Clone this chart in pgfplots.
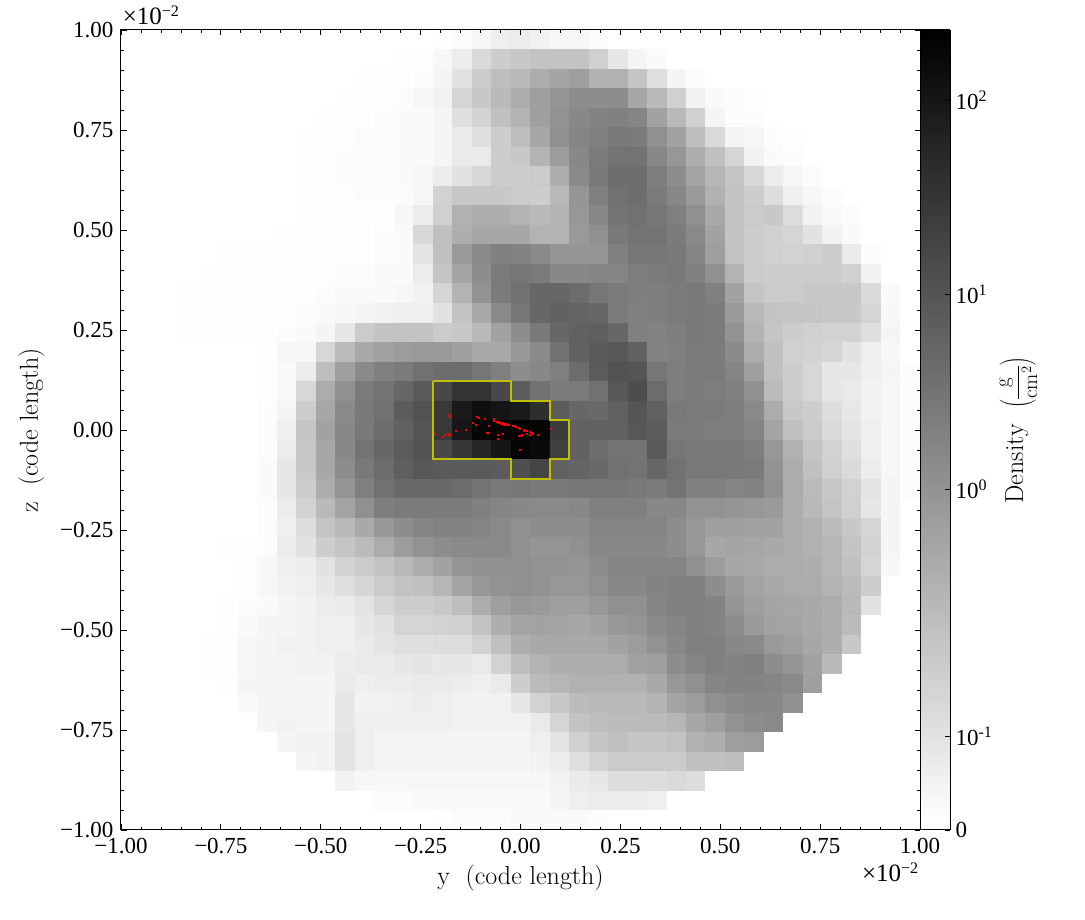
\documentclass[border=0pt]{standalone}
\usepackage{fontspec}
\usepackage{pgfplots}
\pgfplotsset{compat=1.18}
\newfontfamily\tk{Liberation Serif}
\newcommand{\tkfont}{\tk\fontsize{23}{23}\selectfont}
\newcommand{\lbfont}{\fontsize{26}{30}\selectfont}
\newcommand{\sups}[1]{\raisebox{8pt}{\fontsize{16}{16}\selectfont #1}}
\definecolor{contour}{rgb}{0.75,0.75,0}

\begin{document}
\begin{tikzpicture}
\useasboundingbox (0pt,0pt) rectangle (1085pt,920pt);
\begin{axis}[
    at={(121pt,90pt)}, anchor=south west,
    scale only axis,
    width=799pt, height=800pt,
    xmin=-1, xmax=1, ymin=-1, ymax=1,
    enlargelimits=false,
    axis on top,
    axis line style={line width=1pt},
    tick style={black, line width=0.8pt},
    tick align=inside,
    xtick pos=both, ytick pos=both,
    xticklabel pos=bottom, yticklabel pos=left,
    major tick length=5.5pt, minor tick length=3.3pt,
    minor tick num=4,
    xtick={-1,-0.75,-0.5,-0.25,0,0.25,0.5,0.75,1},
    ytick={-1,-0.75,-0.5,-0.25,0,0.25,0.5,0.75,1},
    xticklabels={−1.00,−0.75,−0.50,−0.25,0.00,0.25,0.50,0.75,1.00},
    yticklabels={−1.00,−0.75,−0.50,−0.25,0.00,0.25,0.50,0.75,1.00},
    tick label style={font=\tkfont},
    xticklabel style={yshift=-5pt},
    yticklabel style={xshift=-4pt},
    xlabel={y\ \ (code length)},
    ylabel={z\ \ (code length)},
    label style={font=\lbfont},
    xlabel style={at={(axis description cs:0.5,0)}, anchor=base, yshift=-55pt},
    ylabel style={at={(axis description cs:0,0.5)}, anchor=base, rotate=0, yshift=83pt},
    colormap={bw}{gray(0cm)=(1); gray(1cm)=(0.997); gray(5cm)=(0.96); gray(10cm)=(0.905); gray(100cm)=(0)},
    point meta min=0, point meta max=100,
    colorbar sampled,
    colorbar style={
        at={(1,1)}, anchor=north west, xshift=0pt,
        width=30pt, height=800pt,
        samples=201,
        xmin=0, xmax=1,
        ymin=0, ymax=100,
        ytick={0,11.75,42.6,66.9,91.25},
        yticklabels={0,10\sups{-1},10\sups{0},10\sups{1},10\sups{2}},
        ytick pos=right, yticklabel pos=right,
        tick align=inside,
        major tick length=5.5pt,
        minor tick num=0,
        minor ytick={},
        tick style={black, line width=0.8pt},
        axis line style={line width=1pt},
        yticklabel style={font=\tkfont, anchor=west, xshift=2pt},
        ylabel={Density\ \ {\fontsize{21}{24}\selectfont$\displaystyle\left(\frac{\mathrm{g}}{\mathrm{cm}^2}\right)$}},
        ylabel style={font=\lbfont, at={(axis description cs:1,0.5)}, anchor=base, yshift=-73pt},
    },
    after end axis/.code={
        \node[font=\tk\fontsize{25}{25}\selectfont, anchor=base west, inner sep=0pt] at (axis description cs:0.002,1.00625) {×10\sups{−2}};
        \node[font=\tk\fontsize{25}{25}\selectfont, anchor=base east, inner sep=0pt] at (axis description cs:0.998,-0.065) {×10\sups{−2}};
    },
]
% density grid, 41 x 41 cells, top row first; value = position on the symlog colour scale (0-100)
\addplot[matrix plot*, shader=faceted, faceted color=mapped color, line width=0.3pt,
         mesh/cols=41, mesh/ordering=x varies, point meta=explicit]
    table[row sep=\\, header=false, meta index=0,
          x expr={-1+(round(mod(\coordindex,41))+0.5)*2/41},
          y expr={1-(floor((\coordindex+0.5)/41)+0.5)*2/41}] {
0\\0\\0\\0\\0\\0\\0\\0\\0\\0\\0\\0\\0\\0\\0\\0\\1\\2\\4\\7\\8\\6\\4\\4\\2\\0\\0\\0\\0\\0\\0\\0\\0\\0\\0\\0\\0\\0\\0\\0\\0\\
0\\0\\0\\0\\0\\0\\0\\0\\0\\0\\0\\0\\0\\0\\1\\1\\4\\8\\15\\20\\22\\24\\24\\24\\19\\10\\5\\3\\0\\0\\0\\0\\0\\0\\0\\0\\0\\0\\0\\0\\0\\
0\\0\\0\\0\\0\\0\\0\\0\\0\\0\\0\\0\\1\\1\\1\\2\\5\\12\\21\\26\\28\\33\\36\\38\\31\\31\\23\\13\\5\\2\\0\\0\\0\\0\\0\\0\\0\\0\\0\\0\\0\\
0\\0\\0\\0\\0\\0\\0\\0\\0\\0\\0\\1\\1\\1\\2\\4\\6\\17\\22\\28\\33\\38\\42\\45\\45\\45\\35\\28\\19\\6\\3\\2\\1\\0\\0\\0\\0\\0\\0\\0\\0\\
0\\0\\0\\0\\0\\0\\0\\0\\0\\0\\1\\1\\1\\2\\3\\3\\5\\13\\18\\25\\30\\38\\43\\47\\49\\50\\48\\37\\28\\19\\5\\2\\2\\0\\0\\0\\0\\0\\0\\0\\0\\
0\\0\\0\\0\\0\\0\\0\\0\\0\\1\\1\\1\\2\\2\\3\\3\\5\\9\\13\\20\\26\\35\\44\\48\\50\\53\\52\\44\\37\\26\\15\\5\\4\\2\\1\\0\\0\\0\\0\\0\\0\\
0\\0\\0\\0\\0\\0\\0\\0\\0\\1\\1\\2\\2\\2\\3\\3\\5\\9\\9\\20\\22\\30\\39\\47\\52\\55\\55\\47\\41\\32\\25\\17\\6\\3\\2\\0\\0\\0\\0\\0\\0\\
0\\0\\0\\0\\0\\0\\0\\0\\0\\1\\1\\2\\2\\2\\3\\4\\8\\12\\16\\20\\20\\21\\32\\46\\53\\57\\57\\51\\45\\36\\29\\23\\16\\8\\4\\2\\0\\0\\0\\0\\0\\
0\\0\\0\\0\\0\\0\\0\\0\\0\\1\\1\\1\\2\\2\\2\\4\\18\\22\\22\\22\\21\\20\\28\\42\\50\\56\\57\\52\\47\\40\\31\\24\\20\\14\\7\\4\\2\\0\\0\\0\\0\\
0\\0\\0\\0\\0\\0\\0\\0\\0\\1\\1\\1\\1\\1\\4\\8\\19\\31\\32\\32\\30\\28\\30\\41\\47\\55\\56\\54\\50\\44\\34\\24\\21\\22\\14\\6\\3\\2\\0\\0\\0\\
0\\0\\0\\0\\0\\0\\0\\0\\1\\1\\1\\1\\1\\2\\3\\16\\25\\32\\35\\35\\35\\30\\30\\40\\44\\53\\55\\55\\52\\46\\37\\24\\20\\19\\17\\12\\6\\3\\0\\0\\0\\
0\\0\\0\\0\\0\\1\\1\\1\\1\\1\\1\\1\\1\\2\\3\\11\\25\\40\\46\\50\\49\\46\\42\\42\\42\\50\\54\\54\\53\\48\\38\\24\\20\\19\\18\\19\\20\\9\\2\\0\\0\\
0\\0\\0\\0\\1\\1\\1\\1\\1\\1\\1\\2\\2\\3\\3\\8\\23\\36\\45\\52\\54\\52\\47\\47\\48\\48\\51\\52\\53\\50\\44\\30\\21\\20\\20\\20\\20\\19\\6\\0\\0\\
0\\0\\0\\1\\1\\1\\1\\1\\1\\1\\2\\3\\3\\3\\4\\6\\17\\30\\43\\52\\56\\60\\60\\58\\54\\52\\51\\51\\52\\53\\50\\37\\23\\21\\21\\22\\22\\22\\15\\3\\0\\
0\\0\\0\\1\\1\\1\\1\\1\\1\\2\\3\\4\\5\\6\\7\\7\\12\\24\\34\\46\\54\\60\\62\\61\\60\\52\\50\\51\\52\\53\\52\\40\\28\\24\\23\\23\\22\\22\\17\\4\\0\\
0\\0\\0\\1\\1\\1\\1\\1\\2\\3\\5\\10\\21\\24\\24\\24\\21\\22\\28\\37\\45\\53\\60\\62\\63\\60\\50\\49\\51\\53\\52\\43\\30\\23\\20\\19\\18\\18\\13\\5\\0\\
0\\0\\0\\0\\0\\0\\0\\1\\4\\4\\16\\27\\34\\37\\39\\40\\40\\38\\34\\34\\41\\46\\56\\62\\65\\66\\62\\49\\50\\52\\52\\46\\33\\25\\19\\18\\17\\12\\7\\4\\0\\
0\\0\\0\\0\\0\\0\\0\\1\\3\\8\\26\\38\\46\\50\\52\\56\\58\\58\\54\\50\\45\\47\\50\\58\\64\\68\\67\\54\\51\\52\\52\\48\\38\\25\\20\\16\\10\\10\\7\\5\\2\\
0\\0\\0\\0\\0\\0\\0\\1\\3\\16\\33\\44\\52\\55\\60\\65\\72\\80\\80\\72\\64\\56\\52\\52\\56\\66\\70\\58\\51\\52\\51\\50\\44\\27\\20\\16\\10\\9\\6\\4\\2\\
0\\0\\0\\0\\0\\0\\0\\2\\5\\20\\35\\46\\53\\56\\64\\68\\78\\90\\94\\92\\90\\82\\64\\60\\59\\62\\67\\62\\53\\52\\52\\51\\46\\33\\22\\20\\14\\10\\6\\4\\2\\
0\\0\\0\\0\\0\\0\\0\\2\\7\\23\\37\\47\\53\\58\\62\\67\\78\\91\\98\\99\\99\\98\\77\\62\\62\\62\\66\\64\\52\\52\\51\\51\\48\\36\\25\\21\\15\\11\\7\\4\\2\\
0\\0\\0\\0\\0\\0\\0\\2\\8\\22\\35\\47\\55\\60\\64\\68\\72\\79\\85\\92\\98\\96\\75\\62\\58\\55\\55\\65\\54\\53\\53\\53\\51\\41\\31\\23\\18\\13\\7\\4\\2\\
0\\0\\0\\0\\0\\0\\0\\3\\10\\22\\35\\45\\53\\58\\63\\66\\65\\65\\65\\64\\69\\73\\62\\61\\59\\56\\55\\60\\56\\53\\53\\53\\52\\43\\33\\25\\19\\15\\8\\4\\2\\
0\\0\\0\\0\\0\\0\\0\\3\\10\\20\\33\\42\\50\\56\\59\\59\\59\\58\\55\\53\\54\\53\\53\\54\\54\\54\\53\\52\\55\\50\\50\\48\\49\\44\\33\\27\\22\\18\\11\\5\\2\\
0\\0\\0\\0\\0\\0\\0\\2\\8\\18\\28\\36\\44\\51\\52\\52\\52\\52\\50\\48\\47\\46\\46\\47\\50\\50\\50\\47\\47\\43\\43\\42\\41\\40\\33\\28\\23\\19\\10\\5\\0\\
0\\0\\0\\0\\0\\0\\0\\2\\7\\14\\23\\28\\34\\41\\45\\48\\49\\49\\48\\46\\44\\45\\45\\45\\48\\48\\48\\48\\45\\41\\38\\38\\37\\37\\33\\31\\27\\22\\17\\5\\0\\
0\\0\\0\\0\\0\\1\\1\\2\\8\\12\\20\\23\\27\\33\\39\\43\\45\\46\\46\\46\\44\\42\\42\\44\\47\\47\\47\\47\\45\\41\\35\\36\\35\\34\\33\\31\\29\\24\\18\\5\\0\\
0\\0\\0\\0\\0\\0\\1\\4\\7\\8\\12\\18\\21\\24\\28\\33\\37\\42\\44\\44\\44\\43\\43\\42\\45\\48\\48\\48\\48\\44\\39\\35\\34\\33\\33\\32\\29\\25\\17\\4\\0\\
0\\0\\0\\0\\0\\0\\1\\4\\6\\7\\10\\13\\17\\21\\24\\25\\29\\36\\41\\43\\44\\43\\41\\41\\44\\47\\47\\49\\50\\50\\45\\40\\36\\34\\33\\33\\30\\27\\20\\0\\0\\
0\\0\\0\\0\\0\\1\\2\\3\\5\\6\\8\\9\\11\\17\\20\\20\\22\\26\\33\\38\\41\\40\\38\\38\\41\\44\\44\\48\\50\\50\\49\\42\\38\\36\\35\\34\\33\\28\\12\\0\\0\\
0\\0\\0\\0\\0\\1\\3\\5\\5\\6\\7\\7\\10\\12\\17\\17\\18\\19\\24\\32\\36\\37\\36\\35\\37\\41\\42\\46\\48\\50\\49\\45\\40\\37\\36\\34\\32\\27\\0\\0\\0\\
0\\0\\0\\0\\1\\1\\4\\5\\6\\6\\7\\7\\9\\11\\13\\13\\14\\14\\18\\25\\32\\34\\34\\34\\34\\37\\39\\43\\47\\50\\50\\47\\46\\40\\38\\35\\32\\22\\0\\0\\0\\
0\\0\\0\\0\\1\\1\\4\\5\\5\\6\\6\\8\\9\\9\\10\\11\\10\\10\\9\\18\\26\\30\\32\\32\\32\\33\\37\\38\\45\\48\\50\\49\\50\\45\\42\\37\\28\\0\\0\\0\\0\\
0\\0\\0\\0\\0\\1\\5\\5\\5\\5\\5\\9\\7\\8\\8\\9\\9\\8\\7\\9\\20\\27\\29\\31\\31\\31\\31\\34\\41\\44\\48\\49\\49\\48\\46\\38\\0\\0\\0\\0\\0\\
0\\0\\0\\0\\0\\0\\3\\5\\5\\5\\5\\10\\6\\6\\7\\8\\7\\6\\6\\6\\10\\18\\22\\27\\28\\28\\28\\30\\36\\39\\44\\46\\47\\47\\44\\0\\0\\0\\0\\0\\0\\
0\\0\\0\\0\\0\\0\\0\\5\\6\\5\\5\\10\\7\\7\\7\\7\\7\\6\\6\\6\\6\\9\\17\\24\\26\\27\\27\\27\\29\\35\\38\\43\\45\\46\\0\\0\\0\\0\\0\\0\\0\\
0\\0\\0\\0\\0\\0\\0\\0\\5\\6\\6\\11\\7\\5\\5\\5\\5\\5\\5\\5\\5\\7\\11\\19\\23\\25\\23\\23\\24\\31\\32\\38\\39\\0\\0\\0\\0\\0\\0\\0\\0\\
0\\0\\0\\0\\0\\0\\0\\0\\0\\5\\6\\11\\7\\5\\5\\5\\5\\5\\5\\5\\5\\6\\8\\13\\18\\21\\21\\21\\21\\25\\25\\26\\0\\0\\0\\0\\0\\0\\0\\0\\0\\
0\\0\\0\\0\\0\\0\\0\\0\\0\\0\\0\\6\\4\\4\\4\\4\\4\\4\\4\\4\\4\\4\\6\\9\\10\\14\\14\\14\\15\\14\\0\\0\\0\\0\\0\\0\\0\\0\\0\\0\\0\\
0\\0\\0\\0\\0\\0\\0\\0\\0\\0\\0\\0\\0\\2\\2\\3\\3\\3\\3\\3\\3\\3\\5\\7\\8\\8\\8\\7\\0\\0\\0\\0\\0\\0\\0\\0\\0\\0\\0\\0\\0\\
0\\0\\0\\0\\0\\0\\0\\0\\0\\0\\0\\0\\0\\0\\0\\0\\1\\2\\2\\2\\3\\3\\3\\3\\2\\0\\0\\0\\0\\0\\0\\0\\0\\0\\0\\0\\0\\0\\0\\0\\0\\
};
% contour
\addplot[contour, line width=1.8pt, line join=miter] coordinates {
(-0.2195,0.1220) (-0.0244,0.1220) (-0.0244,0.0732) (0.0732,0.0732) (0.0732,0.0244) (0.1220,0.0244)
(0.1220,-0.0732) (0.0732,-0.0732) (0.0732,-0.1220) (-0.0244,-0.1220) (-0.0244,-0.0732) (-0.2195,-0.0732)
(-0.2195,0.1220)
};
% particles
\addplot[only marks, mark=square*, mark size=0.5pt, draw=red, fill=red] coordinates {
(-0.179,0.0375) (-0.178,0.032) (-0.216,-0.010) (-0.195,-0.0175) (-0.189,-0.013) (-0.183,-0.012)
(-0.180,-0.010) (-0.178,-0.013) (-0.161,-0.002) (-0.136,0) (-0.120,0.017) (-0.112,0.014)
(-0.110,0.033) (-0.104,0.030) (-0.089,0.028) (-0.080,0.011) (-0.066,0.0275) (-0.066,0.023)
(-0.085,-0.007) (-0.080,-0.008) (-0.057,-0.011) (-0.045,-0.009) (-0.057,-0.021) (-0.020,0.010)
(-0.014,0.010) (-0.012,0.0075) (-0.005,0.006) (-0.001,0.004) (0.007,-0.003) (0.010,0.001)
(0.015,-0.002) (0.015,-0.010) (0.024,-0.005) (0.028,-0.008) (0.030,-0.010) (0.022,-0.013)
(0.042,-0.011) (0.075,0.003) (-0.005,-0.014) (0.001,-0.015) (0.002,-0.0125) (-0.003,-0.050)
(-0.060,0.021) (-0.057,0.020) (-0.055,0.020) (-0.053,0.019) (-0.051,0.019) (-0.049,0.018)
(-0.047,0.017) (-0.045,0.017) (-0.043,0.016) (-0.041,0.016) (-0.039,0.015) (-0.037,0.015)
(-0.035,0.014) (-0.033,0.014) (-0.031,0.013) (-0.029,0.012) (-0.058,0.018) (-0.054,0.017)
(-0.050,0.016) (-0.046,0.015) (-0.042,0.014) (-0.038,0.013)
};
\end{axis}
\end{tikzpicture}
\end{document}
